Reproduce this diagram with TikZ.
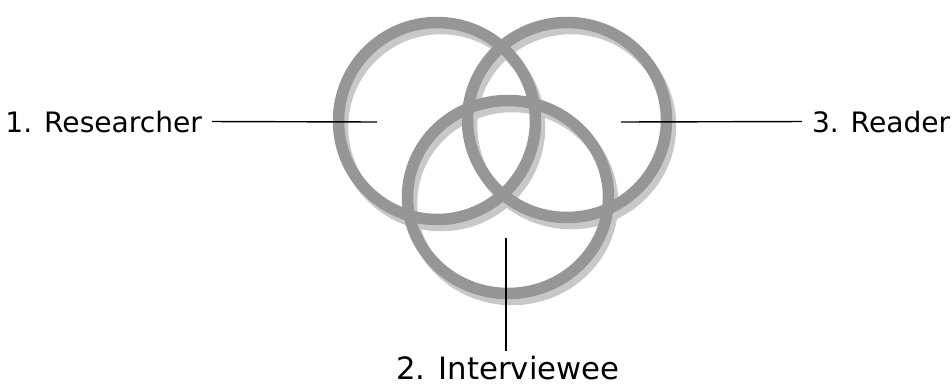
\documentclass[tikz,border=0pt]{standalone}
\usepackage{fontspec}
\setmainfont{DejaVu Sans}
\usetikzlibrary{positioning}

\definecolor{ringgray}{HTML}{969696}
\definecolor{shadowgray}{HTML}{C8C8C8}

\begin{document}
\begin{tikzpicture}[
    x=0.02cm, y=-0.02cm,
    ring/.style={draw=ringgray, line width=0.23cm},
    ringshadow/.style={draw=shadowgray, line width=0.23cm, shift={(4,6)}},
    role/.style={font=\fontsize{16}{19}\selectfont, inner sep=0pt, outer xsep=0.2cm},
    pointer/.style={draw=black, line width=0.8pt},
]
\useasboundingbox (0,0) rectangle (952,385);

% shadows first
\draw[ringshadow] (437,121) ellipse [x radius=98.5, y radius=98.5];
\draw[ringshadow] (567,120) ellipse [x radius=99.5, y radius=97.5];
\draw[ringshadow] (508,197) ellipse [x radius=100.5, y radius=96.5];

% the three rings
\draw[ring] (437,121) ellipse [x radius=98.5, y radius=98.5];
\draw[ring] (567,120) ellipse [x radius=99.5, y radius=97.5];
\draw[ring] (508,197) ellipse [x radius=100.5, y radius=96.5];

% labels
\node[role, anchor=base east] (researcher) at (212,132) {1. Researcher};
\node[role, anchor=base west] (reader) at (802,132) {3. Reader};
\node[role, font=\fontsize{17.5}{21}\selectfont, outer xsep=0pt, outer ysep=0.1cm,
      anchor=base] (interviewee) at (508,379) {2. Interviewee};

% free ends of the pointers, inside the rings
\coordinate (researcherend) at (377,122);
\coordinate (readerend) at (621,122);
\coordinate (intervieweeend) at (506,238);

\draw[pointer] (researcher.east) -- (researcherend);
\draw[pointer] (reader.west) -- (readerend);
\draw[pointer] (interviewee.north -| intervieweeend) -- (intervieweeend);

\end{tikzpicture}
\end{document}
